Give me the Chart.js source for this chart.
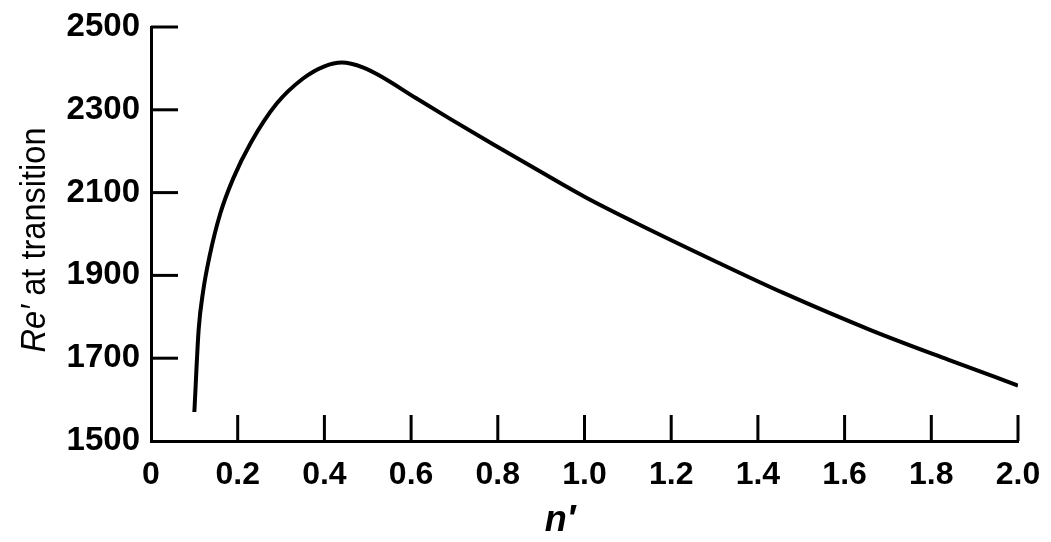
<!DOCTYPE html>
<html>
<head>
<meta charset="utf-8">
<script src="https://cdn.jsdelivr.net/npm/chart.js@4.4.0/dist/chart.umd.min.js"></script>
<style>
html,body{margin:0;padding:0;background:#fff;}
#wrap{width:1051px;height:542px;}
</style>
</head>
<body>
<div id="wrap"><canvas id="c" width="1051" height="542"></canvas></div>
<script>
// n' values and Re' at transition
const nPrime=[0.10,0.11,0.12,0.135,0.16,0.19,0.23,0.29,0.35,0.40,0.44,0.49,0.53,0.61,0.69,0.79,0.85,1.00,1.12,1.31,1.46,1.66,1.84,2.00];
const reTrans=[1570,1770,1860,1946,2050,2135,2220,2315,2375,2405,2414,2402,2381,2329,2278,2216,2180,2090,2026,1930,1857,1768,1696,1634];
const xTicks=[0,0.2,0.4,0.6,0.8,1.0,1.2,1.4,1.6,1.8,2.0];
const yTicks=[1500,1700,1900,2100,2300,2500];

const FONT='"Liberation Sans", Arial, sans-serif';

/* ticks pointing inward + axis titles */
const inner={
  id:'inner',
  afterDatasetsDraw(c){
    const g=c.ctx,x=c.scales.x,y=c.scales.y,{left,bottom}=c.chartArea;
    g.save();
    g.strokeStyle='#000';g.lineWidth=3;
    xTicks.forEach(v=>{if(v===0)return;const p=x.getPixelForValue(v);g.beginPath();g.moveTo(p,bottom);g.lineTo(p,bottom-26);g.stroke();});
    yTicks.forEach(v=>{if(v===1500)return;const p=y.getPixelForValue(v);g.beginPath();g.moveTo(left,p);g.lineTo(left+27,p);g.stroke();});
    // y title, squeezed like the condensed face of the original
    g.fillStyle='#000';g.textBaseline='alphabetic';
    const a='Re\u2032',b=' at transition';
    g.font='italic 35px '+FONT;const wa=g.measureText(a).width;
    g.font='35px '+FONT;const wb=g.measureText(b).width;
    const k=225/(wa+wb);
    g.translate(45,240);g.rotate(-Math.PI/2);g.scale(k,1);
    let s=-(wa+wb)/2;
    g.font='italic 35px '+FONT;g.fillText(a,s,0);
    g.font='35px '+FONT;g.fillText(b,s+wa,0);
    g.setTransform(1,0,0,1,0,0);
    // x title
    g.font='italic bold 36px '+FONT;g.textAlign='center';
    g.fillText('n\u2032',560,531);
    g.restore();
  }
};

new Chart(document.getElementById('c'),{
  type:'line',
  data:{datasets:[{data:nPrime.map((v,i)=>({x:v,y:reTrans[i]})),borderColor:'#000',borderWidth:4,pointRadius:0,cubicInterpolationMode:'monotone',fill:false}]},
  options:{
    responsive:false,animation:false,
    layout:{padding:{top:27,right:33,left:0,bottom:0}},
    plugins:{legend:{display:false},tooltip:{enabled:false}},
    scales:{
      x:{type:'linear',min:0,max:2,
        afterBuildTicks:s=>{s.ticks=xTicks.map(v=>({value:v}));},
        afterFit:s=>{s.height=101;s.paddingLeft=0;s.paddingRight=0;},
        grid:{drawOnChartArea:false,drawTicks:false},
        border:{display:true,color:'#000',width:3},
        ticks:{color:'#000',padding:15,font:{family:FONT,size:32,weight:'bold'},maxRotation:0,autoSkip:false,
          callback:v=>v===0?'0':v.toFixed(1)}},
      y:{min:1500,max:2500,
        afterBuildTicks:s=>{s.ticks=yTicks.map(v=>({value:v}));},
        afterFit:s=>{s.width=151;s.paddingTop=0;s.paddingBottom=0;},
        grid:{drawOnChartArea:false,drawTicks:false},
        border:{display:true,color:'#000',width:3},
        ticks:{color:'#000',padding:11,font:{family:FONT,size:33,weight:'bold'},autoSkip:false,
          callback:v=>String(v)}}
    }
  },
  plugins:[inner]
});
</script>
</body>
</html>
